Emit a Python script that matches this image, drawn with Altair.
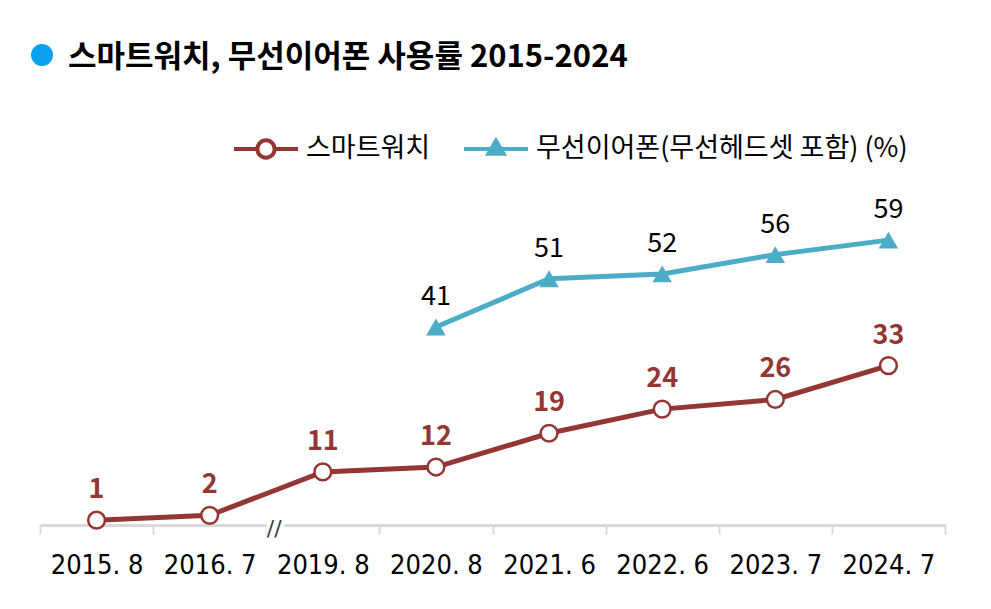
import altair as alt
import pandas as pd

categories = ["2015. 8", "2016. 7", "2019. 8", "2020. 8", "2021. 6", "2022. 6", "2023. 7", "2024. 7"]
smartwatch = [1, 2, 11, 12, 19, 24, 26, 33]
earphone = [None, None, None, 41, 51, 52, 56, 59]
series_names = ["스마트워치", "무선이어폰(무선헤드셋 포함) (%)"]
title_text = "스마트워치, 무선이어폰 사용률 2015-2024"
break_before = "2019. 8"

RED = "#943634"
BLUE = "#4BACC6"
DOT = "#0A9FEF"
FONT = "Noto Sans CJK KR"
AXFONT = "Liberation Sans Narrow, DejaVu Sans Condensed, sans-serif"

rows = []
for c, v in zip(categories, smartwatch):
    rows.append({"cat": c, "series": series_names[0], "value": v})
for c, v in zip(categories, earphone):
    if v is not None:
        rows.append({"cat": c, "series": series_names[1], "value": v})
df = pd.DataFrame(rows)

xscale = alt.Scale(type="band", domain=categories, paddingInner=0, paddingOuter=0)
yscale = alt.Scale(domain=[0, 70])

watch_path = "M-1,0H-0.27M0.27,0H1M0.27,0A0.27,0.27,0,1,1,-0.27,0A0.27,0.27,0,1,1,0.27,0Z"
ear_path = "M-1,0H1M0,-0.26L0.24,0.15L-0.24,0.15Z"


def make_legend(x, shape, fill):
    return alt.Legend(
        title=None, orient="none", legendX=x, legendY=-72, direction="horizontal",
        symbolType=shape, symbolSize=4096, symbolStrokeWidth=4, symbolOpacity=1,
        symbolFillColor=fill, labelFont=FONT, labelFontSize=27, labelLimit=0,
        labelColor="black", labelOffset=6,
    )


xaxis = alt.Axis(
    title=None, tickBand="extent", domainColor="#D9D9D9", domainWidth=3,
    tickColor="#D9D9D9", tickWidth=2, tickSize=9, labelFont=AXFONT, labelFontSize=27,
    labelColor="black", labelPadding=18, labelAngle=0, grid=False,
)

base = alt.Chart(df)
watch = base.transform_filter(alt.datum.series == series_names[0])
ear = base.transform_filter(alt.datum.series == series_names[1])


def xe(band=0.5):
    return alt.X("cat:N", scale=xscale, bandPosition=band, axis=xaxis, sort=categories)


def ye():
    return alt.Y("value:Q", scale=yscale, axis=None)


watch_line = watch.mark_line(strokeWidth=5).encode(
    x=xe(), y=ye(),
    color=alt.Color("series:N", scale=alt.Scale(domain=series_names[:1], range=[RED]),
                    legend=make_legend(192, watch_path, "white")),
)

ear_line = ear.mark_line(strokeWidth=5).encode(
    x=xe(), y=ye(),
    stroke=alt.Stroke("series:N", scale=alt.Scale(domain=series_names[1:], range=[BLUE]),
                      legend=make_legend(422, ear_path, BLUE)),
)

watch_pts = watch.mark_point(
    shape="circle", filled=True, fill="white", stroke=RED, strokeWidth=2.5, size=280, opacity=1
).encode(x=xe(), y=ye())

ear_pts = ear.mark_point(
    shape="triangle-up", filled=True, color=BLUE, size=380, opacity=1
).encode(x=xe(), y=ye())

watch_txt = watch.mark_text(
    dy=-30, fontSize=27, fontWeight="bold", color=RED, font=FONT, baseline="middle"
).encode(x=xe(), y=ye(), text="value:Q")

ear_txt = ear.mark_text(
    dy=-30, fontSize=27, color="black", font=FONT, baseline="middle"
).encode(x=xe(), y=ye(), text="value:Q")

brk_data = alt.Chart(pd.DataFrame({"cat": [break_before], "value": [0]}))
brk_gap = brk_data.mark_point(shape="square", filled=True, color="white", size=324, opacity=1).encode(
    x=xe(0), y=ye(), xOffset=alt.value(9)
)
brk = brk_data.mark_text(
    text="//", fontSize=22, color="#404040", dx=8, dy=4, font="DejaVu Sans", baseline="middle"
).encode(x=xe(0), y=ye())

dot = alt.Chart(alt.Data(values=[{"k": 1}])).mark_circle(size=484, color=DOT, opacity=1).encode(
    x=alt.value(2), y=alt.value(-132)
)

chart = alt.layer(watch_line, ear_line, watch_pts, ear_pts, watch_txt, ear_txt, brk_gap, brk, dot).resolve_legend(
    color="independent", stroke="independent"
).properties(
    width=905, height=338, autosize="none",
    padding={"left": 32, "top": 179, "right": 30, "bottom": 70},
    title=alt.Title(title_text, anchor="start", frame="group", font=FONT, fontSize=31,
                    fontWeight="bold", color="black", offset=-30, dx=28),
).configure_view(stroke=None)

chart.save("out.html", embed_options={"renderer": "svg", "actions": False})
